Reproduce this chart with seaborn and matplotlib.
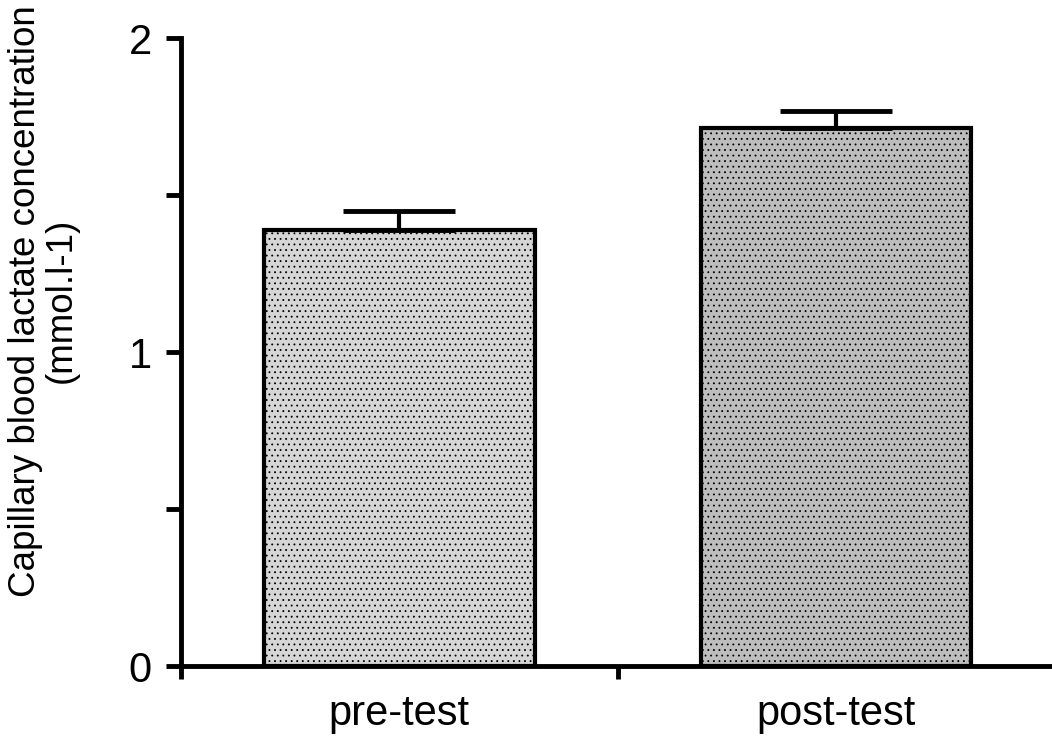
import matplotlib
matplotlib.use("Agg")
import matplotlib.pyplot as plt
import seaborn as sns
import pandas as pd

# Lactate values (mmol.l-1)
conditions = ["pre-test", "post-test"]
mean_lactate = [1.39, 1.715]
sem_lactate = [0.06, 0.055]
bar_fills = ["#d6d6d6", "#bdbdbd"]
y_ticks = [0, 1, 2]
y_minor = [0.5, 1.5]

sns.set_theme(style="white")
plt.rcParams["font.family"] = ["Liberation Sans", "DejaVu Sans"]
plt.rcParams["hatch.linewidth"] = 0.6

df = pd.DataFrame({"condition": conditions, "lactate": mean_lactate})

fig = plt.figure(figsize=(10.52, 7.4), dpi=100)
ax = fig.add_axes([0.172, 0.100, 0.826, 0.848])

sns.barplot(data=df, x="condition", y="lactate", hue="condition",
            palette=bar_fills, order=conditions, hue_order=conditions,
            errorbar=None, width=0.62, edgecolor="black", linewidth=3.0,
            legend=False, ax=ax)

for patch in ax.patches:
    patch.set_hatch("...")
    patch.set_edgecolor("black")

# one-sided (upward) error bars
ax.errorbar(range(len(conditions)), mean_lactate,
            yerr=[[0] * len(conditions), sem_lactate],
            fmt="none", ecolor="black", elinewidth=3.0,
            capsize=40, capthick=3.5, zorder=5)

ax.set_xlim(-0.5, 1.49)
ax.set_ylim(0, 2)
ax.set_yticks(y_ticks)
ax.set_yticks(y_minor, minor=True)
ax.set_yticklabels([str(t) for t in y_ticks])
ax.set_xticks([-0.5, 0.5], minor=True)

ax.tick_params(axis="y", which="both", left=True, direction="out", length=11,
               width=3.5, labelsize=30, pad=10, colors="black")
ax.tick_params(axis="x", which="major", bottom=True, length=0, labelsize=30,
               pad=20, colors="black")
ax.tick_params(axis="x", which="minor", bottom=True, direction="out",
               length=9, width=3.5, colors="black")

for side in ["top", "right"]:
    ax.spines[side].set_visible(False)
for side in ["left", "bottom"]:
    ax.spines[side].set_linewidth(3.5)
    ax.spines[side].set_color("black")

ax.set_xlabel("")
ax.set_ylabel("Capillary blood lactate concentration\n(mmol.l-1)",
              fontsize=26.5, color="black", linespacing=1.0)
ax.yaxis.set_label_coords(-0.118, 0.582)

fig.savefig("out.png", dpi=100, facecolor="white")
